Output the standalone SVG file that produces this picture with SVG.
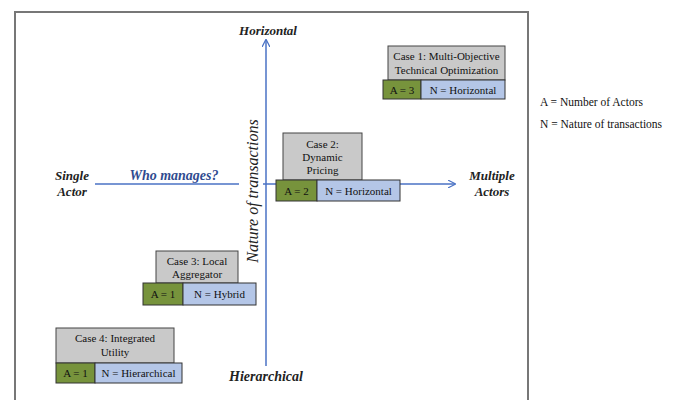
<svg xmlns="http://www.w3.org/2000/svg" width="675" height="400" viewBox="0 0 675 400">
<style>
text{font-family:"Liberation Serif","Times New Roman",serif;fill:#111}
.ax{font-family:"Liberation Serif","Times New Roman",serif;font-size:13px;font-style:italic;font-weight:bold;fill:#222}
.cs{font-family:"Liberation Serif","Times New Roman",serif;font-size:11px;text-anchor:middle}
.lg{font-family:"Liberation Serif","Times New Roman",serif;font-size:11.5px}
.g{fill:#c9c9c9;stroke:#444;stroke-width:1}
.a{fill:#77933c;stroke:#333;stroke-width:1}
.n{fill:#b4c6e7;stroke:#333;stroke-width:1}
.ln{stroke:#4a72c4;stroke-width:1.5;fill:none}
</style>
<defs>
<marker id="ar" viewBox="0 0 10 10" refX="9" refY="5" markerWidth="8" markerHeight="8" orient="auto" markerUnits="userSpaceOnUse">
<path d="M0,0 L10,5 L0,10" fill="none" stroke="#4a72c4" stroke-width="1.5"/>
</marker>
</defs>
<rect width="675" height="400" fill="#fff"/>
<path d="M15,410 V12 H528 V410" fill="none" stroke="#777" stroke-width="2"/>
<g id="connectors">
<line class="ln" x1="266" y1="366" x2="266" y2="40" marker-end="url(#ar)"/>
<line class="ln" x1="95" y1="184" x2="239" y2="184"/>
<line class="ln" x1="263" y1="184" x2="455" y2="184" marker-end="url(#ar)"/>
</g>
<g id="axis-labels">
<text class="ax" x="268" y="35" text-anchor="middle">Horizontal</text>
<text class="ax" x="266" y="381" text-anchor="middle" style="font-size:14px">Hierarchical</text>
<text class="ax" x="72" y="180" text-anchor="middle">Single</text>
<text class="ax" x="72" y="196" text-anchor="middle">Actor</text>
<text class="ax" x="492" y="180" text-anchor="middle">Multiple</text>
<text class="ax" x="492" y="196" text-anchor="middle">Actors</text>
<text class="ax" x="174" y="180" text-anchor="middle" style="fill:#2f4b8f;font-size:14px">Who manages?</text>
<text class="ax" transform="translate(258,191) rotate(-90)" text-anchor="middle" style="font-size:16px;font-weight:normal">Nature of transactions</text>
</g>
<g id="case1">
<rect class="g" x="388" y="46" width="117" height="34"/>
<text class="cs" x="446.5" y="60">Case 1: Multi-Objective</text>
<text class="cs" x="446.5" y="74">Technical Optimization</text>
<rect class="a" x="383" y="80" width="38" height="19"/>
<rect class="n" x="421" y="80" width="84" height="19"/>
<text class="cs" x="402" y="94">A = 3</text>
<text class="cs" x="463" y="94">N = Horizontal</text>
</g>
<g id="case2">
<rect class="g" x="283" y="133" width="79" height="47"/>
<text class="cs" x="322.5" y="148">Case 2:</text>
<text class="cs" x="322.5" y="161">Dynamic</text>
<text class="cs" x="322.5" y="174">Pricing</text>
<rect class="a" x="276" y="180" width="41" height="21"/>
<rect class="n" x="317" y="180" width="83" height="21"/>
<text class="cs" x="296.5" y="195">A = 2</text>
<text class="cs" x="358.5" y="195">N = Horizontal</text>
</g>
<g id="case3">
<rect class="g" x="156" y="251" width="82" height="32"/>
<text class="cs" x="197" y="265">Case 3: Local</text>
<text class="cs" x="197" y="278">Aggregator</text>
<rect class="a" x="143" y="283" width="40" height="22"/>
<rect class="n" x="183" y="283" width="73" height="22"/>
<text class="cs" x="163" y="298">A = 1</text>
<text class="cs" x="219.5" y="298">N = Hybrid</text>
</g>
<g id="case4">
<rect class="g" x="56" y="328" width="118" height="35"/>
<text class="cs" x="115" y="342">Case 4: Integrated</text>
<text class="cs" x="115" y="356">Utility</text>
<rect class="a" x="56" y="363" width="39" height="20"/>
<rect class="n" x="95" y="363" width="87" height="20"/>
<text class="cs" x="75.5" y="377">A = 1</text>
<text class="cs" x="138.5" y="377">N = Hierarchical</text>
</g>
<g id="legend">
<text class="lg" x="540" y="106">A = Number of Actors</text>
<text class="lg" x="540" y="128">N = Nature of transactions</text>
</g>
</svg>
